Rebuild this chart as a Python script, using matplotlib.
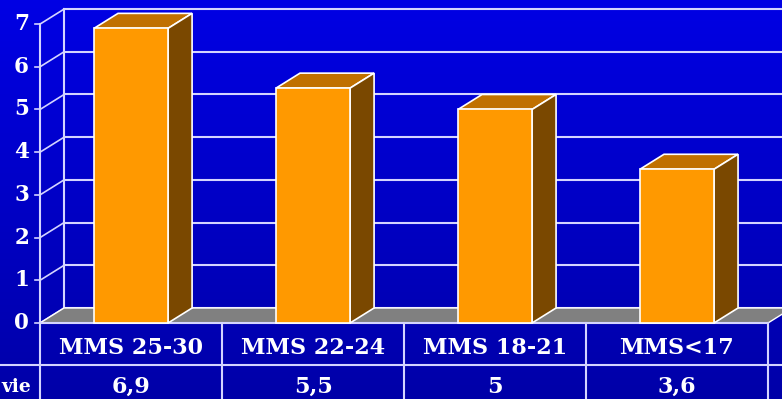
import numpy as np
import matplotlib.pyplot as plt
from matplotlib.colors import LinearSegmentedColormap

# données
categories = ['MMS 25-30', 'MMS 22-24', 'MMS 18-21', 'MMS<17']
valeurs = [6.9, 5.5, 5.0, 3.6]
etiquettes = ['6,9', '5,5', '5', '3,6']
ligne_titre = 'vie'
graduations = [0, 1, 2, 3, 4, 5, 6, 7]

# style
ORANGE = '#FF9900'
DESSUS = '#C07000'
COTE = '#7A4800'
GRILLE = '#D4D4FF'
police = dict(family='DejaVu Serif', weight='bold', color='white')

# profondeur 3D (en unités de données)
dx, dy = 0.132, 0.351
largeur = 0.407

fig = plt.figure(figsize=(7.82, 3.99), dpi=100)
ax = fig.add_axes([0, 0, 1, 1])
xmin, xmax = -0.72, 3.577
ymin, ymax = -1.78, 7.564
ax.set_xlim(xmin, xmax)
ax.set_ylim(ymin, ymax)
ax.axis('off')

# fond bleu dégradé
cmap = LinearSegmentedColormap.from_list('bleu', ['#0000A8', '#0000E4'])
grad = np.linspace(0, 1, 256).reshape(-1, 1)
ax.imshow(grad, cmap=cmap, origin='lower', aspect='auto',
          extent=[xmin, xmax, ymin, ymax], zorder=0)

x = np.arange(len(categories))
x0 = -0.5
xfin = len(categories) - 0.5

# mur du fond : lignes de grille
for v in graduations:
    ax.plot([x0 + dx, xmax], [v + dy, v + dy], color=GRILLE, lw=1.5, zorder=1)
    ax.plot([x0, x0 + dx], [v, v + dy], color=GRILLE, lw=1.2, zorder=1)
    ax.plot([x0 - 0.025, x0], [v, v], color=GRILLE, lw=1.2, zorder=1)
    ax.text(x0 - 0.06, v, str(v), ha='right', va='center', fontsize=15.5, **police)
ax.plot([x0, x0], [0, graduations[-1]], color=GRILLE, lw=1.5, zorder=1)
ax.plot([x0 + dx, x0 + dx], [dy, graduations[-1] + dy], color=GRILLE, lw=1.5, zorder=1)

# sol gris
ax.fill([x0, xfin, xfin + dx, x0 + dx], [0, 0, dy, dy], color='#808080',
        edgecolor='white', lw=1.0, zorder=2)

# barres 3D
ax.bar(x, valeurs, width=largeur, color=ORANGE, edgecolor='white', lw=1.2, zorder=5)
for xi, v in zip(x, valeurs):
    g, d = xi - largeur / 2, xi + largeur / 2
    ax.fill([g, d, d + dx, g + dx], [v, v, v + dy, v + dy], color=DESSUS,
            edgecolor='white', lw=1.2, zorder=4)
    ax.fill([d, d + dx, d + dx, d], [0, dy, v + dy, v], color=COTE,
            edgecolor='white', lw=1.2, zorder=4)

# tableau de données
rang1 = -0.585
rang2 = -1.5
separation = -0.984
for xl in np.arange(x0, xfin + 1):
    ax.plot([xl, xl], [0, ymin], color=GRILLE, lw=1.5, zorder=3)
ax.plot([x0, xfin], [0, 0], color=GRILLE, lw=1.5, zorder=3)
ax.plot([xmin, xmax], [separation, separation], color=GRILLE, lw=1.5, zorder=3)
for xi, cat, lab in zip(x, categories, etiquettes):
    ax.text(xi, rang1, cat, ha='center', va='center', fontsize=16, **police)
    ax.text(xi, rang2, lab, ha='center', va='center', fontsize=16, **police)
ax.text(x0 - 0.05, rang2, ligne_titre, ha='right', va='center', fontsize=13.5, **police)

fig.savefig('out.png', dpi=100)
